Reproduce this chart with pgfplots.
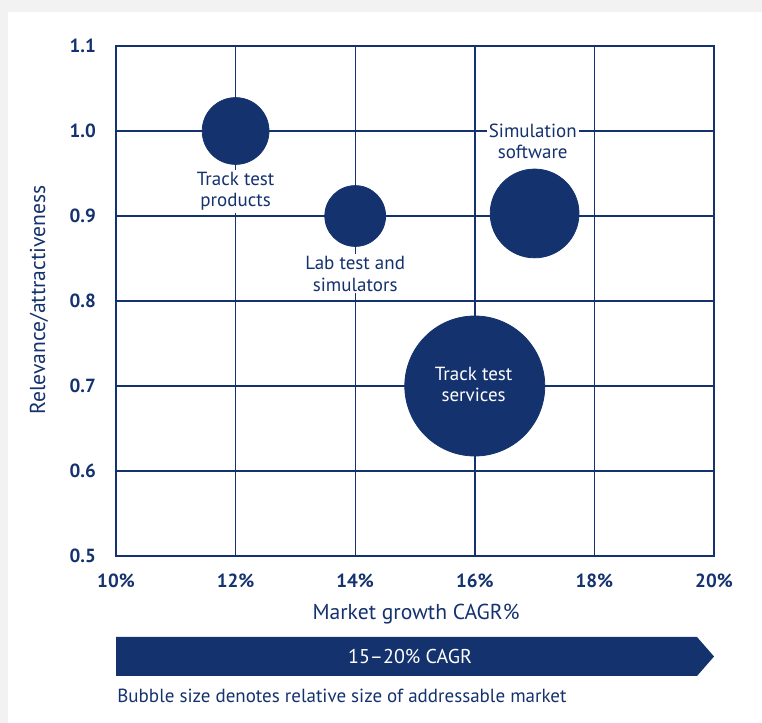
\documentclass[border=0pt]{standalone}
\usepackage{fontspec}
\setmainfont{PT Sans}
\usepackage{pgfplots}
\pgfplotsset{compat=1.18}
\definecolor{navy}{RGB}{20,50,110}
\definecolor{bggray}{RGB}{242,242,242}
\begin{document}
\begin{tikzpicture}[x=1pt,y=1pt]
\fill[bggray] (0,0) rectangle (381,361.5);
\fill[white] (4,0) rectangle (381,355.5);
\begin{axis}[
  at={(58pt,83.5pt)}, anchor=south west,
  width=299pt, height=255pt, scale only axis,
  xmin=10, xmax=20, ymin=0.5, ymax=1.1,
  xtick={10,12,14,16,18,20},
  ytick={0.5,0.6,0.7,0.8,0.9,1.0,1.1},
  xticklabel={\pgfmathprintnumber{\tick}\%},
  yticklabel style={/pgf/number format/fixed,/pgf/number format/fixed zerofill,/pgf/number format/precision=1},
  /pgf/number format/assume math mode=true,
  ticklabel style={font=\fontsize{9.5}{11}\selectfont\bfseries, text=navy},
  xticklabel style={yshift=-5.5pt},
  yticklabel style={xshift=-6.5pt},
  major tick length=0pt,
  grid=major,
  grid style={navy, line width=0.7pt},
  axis line style={navy, line width=0.8pt},
  clip=false,
]
\addplot[only marks, mark=*, mark size=16.7pt, color=navy, mark options={draw=navy, fill=navy}] coordinates {(12,1.0)};
\addplot[only marks, mark=*, mark size=15.2pt, color=navy, mark options={draw=navy, fill=navy}] coordinates {(14,0.9)};
\addplot[only marks, mark=*, mark size=22.2pt, color=navy, mark options={draw=navy, fill=navy}] coordinates {(17,0.903)};
\addplot[only marks, mark=*, mark size=35pt, color=navy, mark options={draw=navy, fill=navy}] coordinates {(16,0.7)};
\coordinate (l1) at (axis cs:12,0.929);
\coordinate (l2) at (axis cs:14,0.832);
\coordinate (l3) at (axis cs:16.97,0.988);
\coordinate (l4) at (axis cs:15.98,0.702);
\end{axis}
\node[align=center, text=navy, font=\fontsize{9.5}{10.8}\selectfont, fill=white, inner sep=1pt] at (l1) {Track test\\products};
\node[align=center, text=navy, font=\fontsize{9.5}{10.8}\selectfont, fill=white, inner sep=1pt] at (l2) {Lab test and\\simulators};
\node[align=center, text=navy, font=\fontsize{9.5}{10.8}\selectfont, fill=white, inner sep=1pt] at (l3) {Simulation\\software};
\node[align=center, text=white, font=\fontsize{9.5}{10.8}\selectfont] at (l4) {Track test\\services};
\node[text=navy, font=\fontsize{10.8}{12}\selectfont] at (208,54.5) {Market growth CAGR\%};
\node[text=navy, font=\fontsize{10.8}{12}\selectfont, rotate=90] at (19.5,211.5) {Relevance/attractiveness};
\fill[navy] (58,43) -- (348.5,43) -- (357,33.25) -- (348.5,23.5) -- (58,23.5) -- cycle;
\node[text=white, font=\fontsize{10}{12}\selectfont] at (205,33.25) {15–20\% CAGR};
\node[text=navy, font=\fontsize{9.5}{11}\selectfont, anchor=west, inner sep=0pt] at (58.5,13.5) {Bubble size denotes relative size of addressable market};
\end{tikzpicture}
\end{document}
